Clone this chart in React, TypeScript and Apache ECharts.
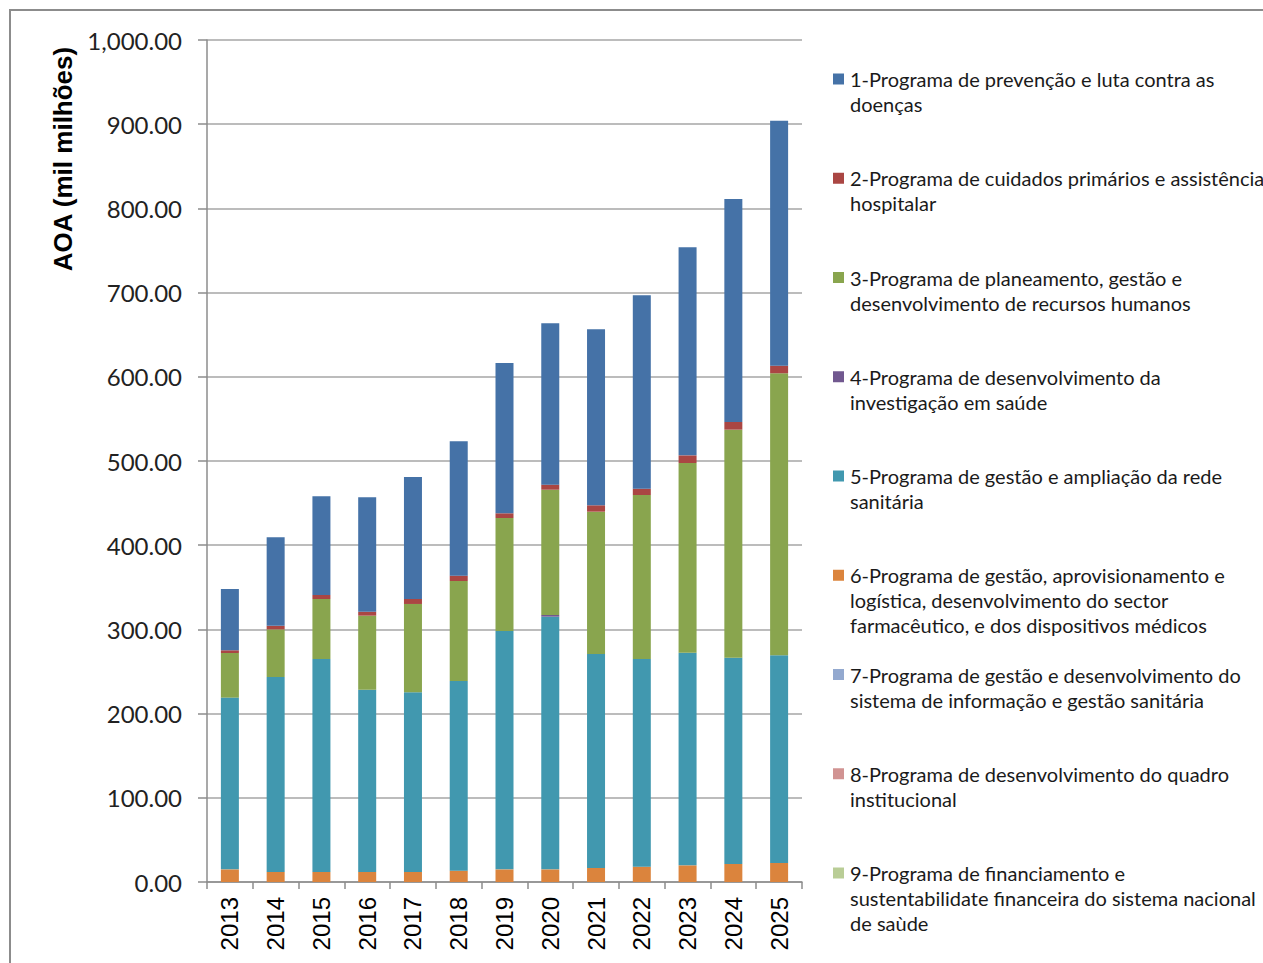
import React, { useEffect, useRef } from "react";
import * as echarts from "echarts";

const years = ["2013", "2014", "2015", "2016", "2017", "2018", "2019", "2020", "2021", "2022", "2023", "2024", "2025"];

const p1 = [72.8, 105, 117.1, 135.9, 144.9, 159.6, 178.5, 191.6, 209, 229.9, 247.2, 265, 291];
const p2 = [3.2, 4.3, 4.8, 4.7, 5.9, 6.3, 5.6, 6, 7.6, 7.5, 9.1, 9.1, 9];
const p3 = [53, 56.5, 71.3, 87.9, 104.9, 118.8, 134.2, 148.8, 169, 194.8, 225.3, 270.8, 335];
const p4 = [0, 0, 0, 0, 0, 0, 0, 2, 0, 0, 0, 0, 0];
const p5 = [204, 231.5, 252.8, 216.4, 213.3, 225.2, 283.1, 300.1, 254.2, 246.6, 252.5, 245, 246.6];
const p6 = [15, 12, 12, 12, 12, 13.5, 15, 15, 16.6, 18.2, 19.8, 21.4, 22.6];
const p7 = [0, 0, 0, 0, 0, 0, 0, 0, 0, 0, 0, 0, 0];
const p8 = [0, 0, 0, 0, 0, 0, 0, 0, 0, 0, 0, 0, 0];
const p9 = [0, 0, 0, 0, 0, 0, 0, 0, 0, 0, 0, 0, 0];

const seriesNames = [
  "1-Programa de prevenção e luta contra as doenças",
  "2-Programa de cuidados primários e assistência hospitalar",
  "3-Programa de planeamento, gestão e desenvolvimento de recursos humanos",
  "4-Programa de desenvolvimento da investigação em saúde",
  "5-Programa de gestão e ampliação da rede sanitária",
  "6-Programa de gestão, aprovisionamento e logística, desenvolvimento do sector farmacêutico, e dos dispositivos médicos",
  "7-Programa de gestão e desenvolvimento do sistema de informação e gestão sanitária",
  "8-Programa de desenvolvimento do quadro institucional",
  "9-Programa de financiamento e sustentabilidate financeira do sistema nacional de saùde",
];

const legendLines = [
  ["1-Programa de prevenção e luta contra as", "doenças"],
  ["2-Programa de cuidados primários e assistência", "hospitalar"],
  ["3-Programa de planeamento, gestão e", "desenvolvimento de recursos humanos"],
  ["4-Programa de desenvolvimento da", "investigação em saúde"],
  ["5-Programa de gestão e ampliação da rede", "sanitária"],
  ["6-Programa de gestão, aprovisionamento e", "logística, desenvolvimento do sector", "farmacêutico, e dos dispositivos médicos"],
  ["7-Programa de gestão e desenvolvimento do", "sistema de informação e gestão sanitária"],
  ["8-Programa de desenvolvimento do quadro", "institucional"],
  ["9-Programa de financiamento e", "sustentabilidate financeira do sistema nacional", "de saùde"],
];

const colors = ["#4572A7", "#AA4643", "#89A54E", "#71588F", "#4198AF", "#DB843D", "#93A9CF", "#D19392", "#B9CD96"];
const seriesData = [p1, p2, p3, p4, p5, p6, p7, p8, p9];
const yTicks = [0, 100, 200, 300, 400, 500, 600, 700, 800, 900, 1000];
const yTitle = "AOA (mil milhões)";

export default function App() {
  const ref = useRef<HTMLDivElement>(null);
  useEffect(() => {
    if (!ref.current) return;
    const chart = echarts.init(ref.current, null, { renderer: "svg" });
    const series: any[] = [];
    // stack from bottom: series 9 ... series 1 on top
    for (let i = seriesData.length - 1; i >= 0; i--) {
      series.push({
        name: seriesNames[i],
        type: "bar",
        stack: "total",
        barWidth: 18,
        data: seriesData[i],
        itemStyle: { color: colors[i] },
      });
    }
    const graphics: any[] = [
      {
        type: "rect",
        shape: { x: 10, y: 10, width: 1262, height: 962 },
        style: { fill: "none", stroke: "#8c8c8c", lineWidth: 2 },
        silent: true,
      },
      {
        type: "text",
        x: 63,
        y: 159,
        rotation: Math.PI / 2,
        style: {
          text: yTitle,
          font: "bold 26px 'Liberation Sans', Arial, sans-serif",
          fill: "#000",
          align: "center",
          verticalAlign: "middle",
        },
      },
    ];
    legendLines.forEach((lines, k) => {
      const top = 66.5 + 99.25 * k;
      graphics.push({
        type: "rect",
        shape: { x: 833, y: top + 7, width: 11, height: 11 },
        style: { fill: colors[k] },
      });
      graphics.push({
        type: "text",
        x: 850,
        y: top,
        style: {
          text: lines.join("\n"),
          font: "20px Lato, 'Noto Sans', sans-serif",
          lineHeight: 25,
          fill: "#1a1a1a",
          align: "left",
          verticalAlign: "top",
        },
      });
    });
    chart.setOption({
      animation: false,
      backgroundColor: "#ffffff",
      grid: { left: 207, top: 40, width: 595, height: 842 },
      xAxis: {
        type: "category",
        data: years,
        axisLine: { lineStyle: { color: "#8c8c8c", width: 1.5 } },
        axisTick: { show: true, length: 7, lineStyle: { color: "#8c8c8c", width: 1.5 } },
        axisLabel: {
          rotate: 90,
          margin: 15,
          color: "#000",
          fontSize: 24,
          fontFamily: "'Liberation Sans', Arial, sans-serif",
        },
      },
      yAxis: {
        type: "value",
        min: 0,
        max: 1000,
        interval: 100,
        axisLine: { show: true, lineStyle: { color: "#8c8c8c", width: 1.5 } },
        axisTick: { show: true, length: 9, lineStyle: { color: "#8c8c8c", width: 1.5 } },
        splitLine: { lineStyle: { color: "#a6a6a6", width: 1.5 } },
        axisLabel: {
          margin: 25,
          color: "#222",
          fontSize: 24,
          fontFamily: "Lato, 'Noto Sans', sans-serif",
          formatter: (v: number) =>
            yTicks.indexOf(v) >= 0
              ? v.toLocaleString("en-US", { minimumFractionDigits: 2, maximumFractionDigits: 2 })
              : "",
        },
      },
      series,
      graphic: graphics,
    });
    return () => chart.dispose();
  }, []);
  return (
    <div
      ref={ref}
      style={{ position: "absolute", left: 0, top: 0, width: 1263, height: 963, background: "#fff" }}
    />
  );
}
